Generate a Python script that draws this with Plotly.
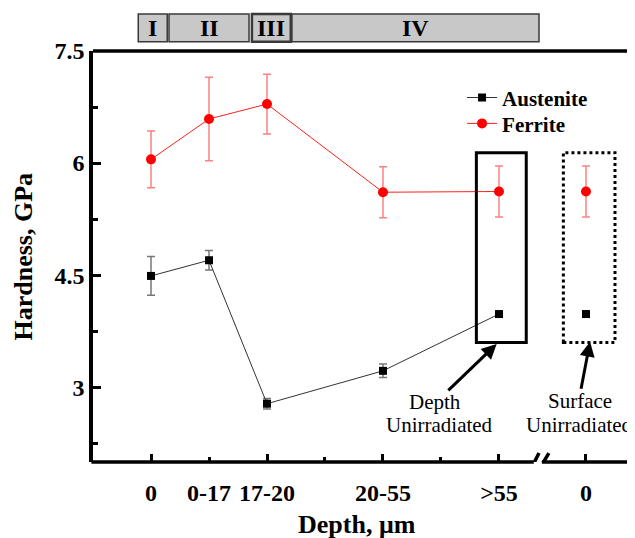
import plotly.graph_objects as go

# ---- data ----
depth_labels = ["0", "0-17", "17-20", "20-55", ">55", "0"]
depth_pos = [1, 2, 3, 5, 7]          # irradiated profile + depth unirradiated
surface_pos = [8.5]                  # surface unirradiated (after axis break)

ferrite = [6.05, 6.59, 6.79, 5.61, 5.62]
ferrite_err = [0.38, 0.56, 0.40, 0.34, 0.34]
ferrite_surface = [5.62]
ferrite_surface_err = [0.34]

austenite = [4.49, 4.70, 2.78, 3.22, 3.98]
austenite_err = [0.26, 0.13, 0.07, 0.09, 0.03]
austenite_surface = [3.98]
austenite_surface_err = [0.03]

regions = ["I", "II", "III", "IV"]
region_x0 = [0.78, 1.31, 2.74, 3.43]
region_x1 = [1.28, 2.69, 3.41, 7.69]

y_major = [3, 4.5, 6, 7.5]
y_minor = [2.25, 3.75, 5.25, 6.75]
x_major = [1, 3, 5, 7, 8.5]
x_minor = [2, 4, 6]

SERIF = "Liberation Serif"

fig = go.Figure()

# Austenite
fig.add_trace(go.Scatter(
    x=depth_pos, y=austenite, name="Austenite", mode="lines+markers", legend="legend",
    line=dict(color="#333333", width=1),
    marker=dict(symbol="square", size=8, color="black"),
    error_y=dict(type="data", array=austenite_err, color="#777777", thickness=1.5, width=4),
))
fig.add_trace(go.Scatter(
    x=surface_pos, y=austenite_surface, mode="markers", showlegend=False,
    marker=dict(symbol="square", size=8, color="black"),
    error_y=dict(type="data", array=austenite_surface_err, color="#777777", thickness=1.5, width=4),
))
# Ferrite
fig.add_trace(go.Scatter(
    x=depth_pos, y=ferrite, name="Ferrite", mode="lines+markers", legend="legend2",
    line=dict(color="#ff2020", width=1),
    marker=dict(symbol="circle", size=10, color="#ff0000"),
    error_y=dict(type="data", array=ferrite_err, color="#ff8080", thickness=1.5, width=4),
))
fig.add_trace(go.Scatter(
    x=surface_pos, y=ferrite_surface, mode="markers", showlegend=False,
    marker=dict(symbol="circle", size=10, color="#ff0000"),
    error_y=dict(type="data", array=ferrite_surface_err, color="#ff8080", thickness=1.5, width=4),
))
# dummy trace for tick overlay axis
fig.add_trace(go.Scatter(x=[None], y=[None], xaxis="x2", showlegend=False, hoverinfo="skip"))

XR = [0, 9.483]
YR = [2, 7.5]

legend_common = dict(
    xanchor="left", yanchor="middle", bgcolor="rgba(0,0,0,0)", borderwidth=0,
    font=dict(family=SERIF, size=21, color="black", weight="bold"),
)

fig.update_layout(
    width=635, height=538,
    margin=dict(l=85, r=0, t=43, b=84),
    paper_bgcolor="white", plot_bgcolor="white",
    font=dict(family=SERIF, color="black"),
    xaxis=dict(
        range=XR, showline=False, showgrid=False, zeroline=False, automargin=False,
        tickmode="array", tickvals=[1, 2, 3, 5, 7, 8.5], ticktext=depth_labels,
        ticks="", ticklabelstandoff=14,
        tickfont=dict(family=SERIF, size=24, color="black", weight="bold"),
    ),
    xaxis2=dict(
        range=XR, overlaying="x", anchor="y", side="bottom", automargin=False,
        showline=False, showgrid=False, zeroline=False, showticklabels=False,
        tickmode="array", tickvals=x_major, ticks="inside", ticklen=8, tickwidth=3, tickcolor="black",
        minor=dict(tickmode="array", tickvals=x_minor, ticks="inside", ticklen=5, tickwidth=3, tickcolor="black"),
    ),
    yaxis=dict(
        range=YR, showline=True, linewidth=3.5, linecolor="black", showgrid=False, zeroline=False,
        automargin=False,
        tickmode="array", tickvals=y_major, ticktext=["3", "4.5", "6", "7.5"],
        ticks="inside", ticklen=8, tickwidth=3, tickcolor="black", ticklabelstandoff=0,
        minor=dict(tickmode="array", tickvals=y_minor, ticks="inside", ticklen=5, tickwidth=3, tickcolor="black"),
        tickfont=dict(family=SERIF, size=24, color="black", weight="bold"),
    ),
    legend=dict(x=0.671, y=0.886, **legend_common),
    legend2=dict(x=0.671, y=0.823, **legend_common),
    showlegend=True,
)

shapes = []
# top frame line
shapes.append(dict(type="line", xref="paper", yref="paper", x0=0, x1=1, y0=1, y1=1,
                   line=dict(color="black", width=3.5)))
# bottom axis line with break
shapes.append(dict(type="line", xref="paper", yref="paper", x0=-0.003, x1=0, y0=0, y1=0,
                   line=dict(color="black", width=3.5)))
shapes.append(dict(type="line", xref="x", yref="paper", x0=0, x1=7.6, y0=0, y1=0,
                   line=dict(color="black", width=3.5)))
shapes.append(dict(type="line", xref="x", yref="paper", x0=7.74, x1=XR[1], y0=0, y1=0,
                   line=dict(color="black", width=3.5)))
shapes.append(dict(type="line", xref="x", yref="y", x0=7.52, x1=7.69, y0=1.86, y1=2.12,
                   line=dict(color="black", width=3.5)))
shapes.append(dict(type="line", xref="x", yref="y", x0=7.66, x1=7.86, y0=1.86, y1=2.12,
                   line=dict(color="black", width=3.5)))
# highlight boxes
shapes.append(dict(type="rect", xref="x", yref="y", x0=6.61, x1=7.47, y0=3.60, y1=6.14,
                   line=dict(color="black", width=3)))
shapes.append(dict(type="rect", xref="x", yref="y", x0=8.11, x1=9.0, y0=3.60, y1=6.14,
                   line=dict(color="black", width=3, dash="dot")))
# region boxes above plot
for r, a, b in zip(regions, region_x0, region_x1):
    w = 2.5 if r == "III" else 1.5
    shapes.append(dict(type="rect", xref="x", yref="paper", x0=a, x1=b, y0=1.0226, y1=1.090,
                       fillcolor="#c8c8c8", line=dict(color="#3a3a3a", width=w)))
fig.update_layout(shapes=shapes)

annotations = []
for r, a, b in zip(regions, region_x0, region_x1):
    annotations.append(dict(x=(a + b) / 2, y=1.0563, xref="x", yref="paper", text=f"<b>{r}</b>",
                            showarrow=False, font=dict(family=SERIF, size=24, color="black"),
                            xanchor="center", yanchor="middle"))
# axis titles
annotations.append(dict(x=-0.1255, y=0.5, xref="paper", yref="paper", text="<b>Hardness, GPa</b>",
                        textangle=-90, showarrow=False, xanchor="center", yanchor="middle",
                        font=dict(family=SERIF, size=26, color="black")))
annotations.append(dict(x=0.48, y=-0.151, xref="paper", yref="paper", text="<b>Depth, μm</b>",
                        showarrow=False, xanchor="center", yanchor="middle",
                        font=dict(family=SERIF, size=26, color="black")))
# arrows
annotations.append(dict(x=6.96, y=3.58, ax=6.10, ay=2.94, xref="x", yref="y", axref="x", ayref="y",
                        text="", showarrow=True, arrowhead=2, arrowsize=1, arrowwidth=3, arrowcolor="black"))
annotations.append(dict(x=8.57, y=3.61, ax=8.41, ay=2.96, xref="x", yref="y", axref="x", ayref="y",
                        text="", showarrow=True, arrowhead=2, arrowsize=1, arrowwidth=3, arrowcolor="black"))
# labels
for txt, xx, yy in [("Depth", 5.90, 2.805), ("Unirradiated", 5.97, 2.49),
                    ("Surface", 8.40, 2.815), ("Unirradiated", 8.38, 2.49)]:
    annotations.append(dict(x=xx, y=yy, xref="x", yref="y", text=txt, showarrow=False,
                            font=dict(family=SERIF, size=21, color="black"),
                            xanchor="center", yanchor="middle"))
fig.update_layout(annotations=annotations)

fig.write_html("out.html")
